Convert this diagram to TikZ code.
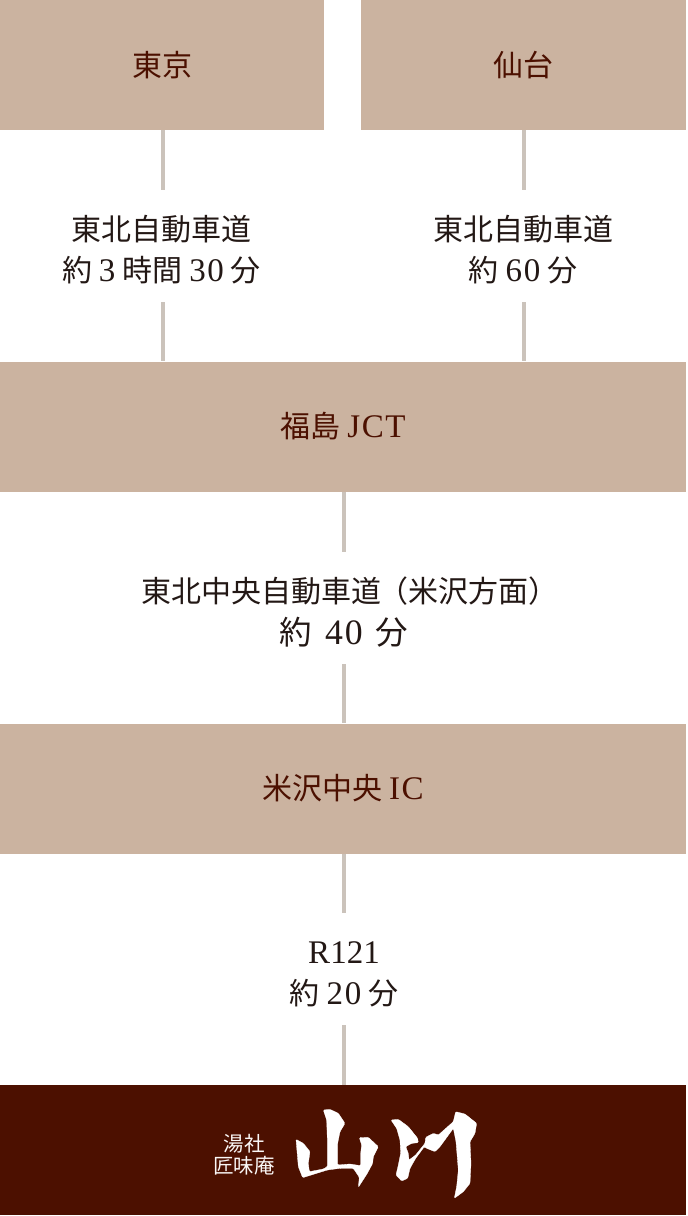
\documentclass[tikz,border=0pt]{standalone}
\usepackage{fontspec}
\setmainfont{Liberation Serif}[Scale=1.1,LetterSpace=5,WordSpace=0.7]
\newfontfamily\lat{Liberation Serif}[Scale=1.1]
\newfontfamily\cjk{Noto Sans CJK JP}
\definecolor{tan}{HTML}{CBB3A0}
\definecolor{ink}{HTML}{4C1000}
\definecolor{txt}{HTML}{231815}
\definecolor{linec}{HTML}{CBC3BB}
\tikzset{
 x=1pt,y=-1pt,
 place/.style={fill=tan,text=ink,inner sep=0,font=\fontsize{30}{36}\selectfont},
 route/.style={text=txt,inner sep=0,align=center,minimum height=112pt,font=\fontsize{30}{40.5}\selectfont},
 link/.style={draw=linec,line width=4pt},
 brush/.style={fill=white,draw=white,line width=0.3pt,rounded corners=1pt},
}
\newcommand{\J}[1]{{\cjk #1}}
\newcommand{\up}{\rule{0pt}{33pt}}
\begin{document}
\begin{tikzpicture}
\useasboundingbox (0,0) rectangle (688,1216);
\path[fill=white] (0,0) rectangle (688,1216);
\node[place,minimum width=324pt,minimum height=130pt] (tokyo) at (162,65) {\J{東京}};
\node[place,minimum width=325pt,minimum height=130pt] (sendai) at (523.5,65) {\J{仙台}};
\node[place,minimum width=686pt,minimum height=130pt] (fuku) at (343,426.5) {\J{福島} JCT};
\node[place,minimum width=686pt,minimum height=130pt] (yone) at (343,788.5) {\J{米沢中央} IC};
\node[fill=ink,inner sep=0,minimum width=686pt,minimum height=130pt] (inn) at (343,1150) {};
\node[route] (r1) at (161.5,246) {\up\J{東北自動車道}\\\J{約} 3 \J{時間} 30 \J{分}};
\node[route] (r2) at (523,246) {\up\J{東北自動車道}\\\J{約} 60 \J{分}};
\node[route] (r3) at (344,608) {\up\hspace*{12pt}\J{東北中央自動車道\kern-3pt（米沢方面）}\\[1.5pt]{\fontsize{32.5}{40.5}\selectfont\J{約}\hspace{13pt}40\hspace{13pt}\J{分}}};
\node[route] (r4) at (344,969) {\up{\lat R121}\\\J{約} 20 \J{分}};
\draw[link] ([xshift=1.5pt]r1.north) -- ([xshift=1.5pt]r1.north |- tokyo.south);
\draw[link] ([xshift=1.5pt]r1.south) -- ([xshift=1.5pt]r1.south |- fuku.north);
\draw[link] ([xshift=.5pt]r2.north) -- ([xshift=.5pt]r2.north |- sendai.south);
\draw[link] ([xshift=.5pt]r2.south) -- ([xshift=.5pt]r2.south |- fuku.north);
\draw[link] (r3.north) -- (r3.north |- fuku.south);
\draw[link] (r3.south) -- (r3.south |- yone.north);
\draw[link] (r4.north) -- (r4.north |- yone.south);
\draw[link] (r4.south) -- (r4.south |- inn.north);
\node[text=white!90!tan,inner sep=0,align=center,font=\fontsize{20.5}{22}\selectfont] (tag) at (244,1155) {\J{湯社}\\\J{匠味庵}};
\begin{scope}[shift={(290,1100)},x=0.3333pt,y=-0.3333pt]
\path[brush] (18,118) -- (40,130) -- (60,155) -- (55,190) -- (58,215) -- (100,207) -- (112,200) -- (112,120) -- (110,60) -- (100,30) -- (120,28) -- (145,40) -- (165,70) -- (150,95) -- (143,130) -- (143,195) -- (180,192) -- (212,197) -- (212,160) -- (215,135) -- (208,113) -- (235,112) -- (265,140) -- (250,170) -- (248,190) -- (232,220) -- (205,262) -- (208,232) -- (190,205) -- (150,205) -- (112,210) -- (38,233) -- (25,200) -- cycle;
\end{scope}
\begin{scope}[shift={(385,1100)},x=0.3333pt,y=-0.3333pt]
\path[brush] (18,60) -- (40,58) -- (70,80) -- (98,115) -- (100,128) -- (80,130) -- (62,140) -- (70,160) -- (72,180) -- (92,165) -- (120,130) -- (122,112) -- (145,100) -- (160,105) -- (205,65) -- (212,35) -- (240,42) -- (275,70) -- (270,100) -- (255,125) -- (258,190) -- (255,250) -- (235,275) -- (208,295) -- (215,260) -- (220,210) -- (213,125) -- (205,85) -- (165,140) -- (150,155) -- (125,145) -- (118,140) -- (92,175) -- (75,205) -- (68,235) -- (50,243) -- (33,225) -- (40,195) -- (47,160) -- (45,120) -- (35,85) -- cycle;
\end{scope}
\end{tikzpicture}
\end{document}
